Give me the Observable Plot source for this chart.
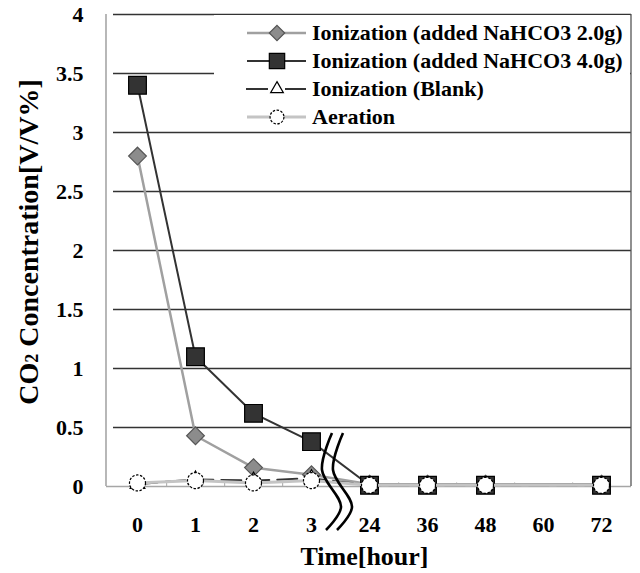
<!DOCTYPE html>
<html><head><meta charset="utf-8">
<script src="https://cdn.jsdelivr.net/npm/d3@7"></script>
<script src="https://cdn.jsdelivr.net/npm/@observablehq/plot@0.6"></script>
<style>
body{margin:0;background:#fff}
#chart{position:relative;width:640px;height:573px}
</style>
</head><body><div id="chart"></div>
<script>
// x categories (hours) and the sampled times (no sample at 60 h)
const timeLabels = ["0","1","2","3","24","36","48","60","72"];
const sampleTimes = ["0","1","2","3","24","36","48","72"];
const seriesNames = [
  "Ionization (added NaHCO3 2.0g)",
  "Ionization (added NaHCO3 4.0g)",
  "Ionization (Blank)",
  "Aeration"
];
const na2g     = [2.80, 0.43, 0.16, 0.10, 0.02, 0.02, 0.02, 0.02];
const na4g     = [3.40, 1.10, 0.62, 0.38, 0.01, 0.01, 0.01, 0.01];
const blank    = [0.02, 0.06, 0.05, 0.07, 0.01, 0.01, 0.01, 0.01];
const aeration = [0.03, 0.05, 0.03, 0.05, 0.01, 0.01, 0.01, 0.01];
const yTicks = [0, 0.5, 1, 1.5, 2, 2.5, 3, 3.5, 4];

const styles = [
  {line:"#a0a0a0", lw:2.5, dash:null, symbol:"diamond2", r:8, fill:"#8c8c8c", stroke:"#555", sdash:null},
  {line:"#333333", lw:2,   dash:null, symbol:"square",   r:10, fill:"#333333", stroke:"#000", sdash:null},
  {line:"#333333", lw:2,   dash:"20,8", symbol:"triangle2", r:7, fill:"#fff", stroke:"#000", sdash:null},
  {line:"#c4c4c4", lw:3,   dash:null, symbol:"circle",   r:8, fill:"#fff", stroke:"#000", sdash:"2.5,1.5"}
];
const allValues = [na2g, na4g, blank, aeration];
const tables = allValues.map((vals, i) => sampleTimes.map((t, j) => ({t, v: vals[j], s: seriesNames[i]})));

const FONT = "'Liberation Serif','Times New Roman',serif";

const seriesMarks = tables.flatMap((tbl, i) => {
  const st = styles[i];
  return [
    Plot.line(tbl, {x:"t", y:"v", stroke:st.line, strokeWidth:st.lw, strokeDasharray:st.dash}),
    Plot.dot(tbl, {x:"t", y:"v", symbol:()=>st.symbol, r:st.r, fill:st.fill, stroke:st.stroke, strokeWidth:1.2, strokeDasharray:st.sdash})
  ];
});

const fig = Plot.plot({
  width:640, height:573,
  marginLeft:106, marginRight:9, marginTop:14, marginBottom:87,
  style:{fontFamily:FONT, fontWeight:"bold", background:"#fff", color:"#000", overflow:"visible"},
  x:{type:"point", domain:timeLabels, padding:0.5},
  y:{domain:[0,4]},
  symbol:{type:"identity"},
  marks:[
    Plot.ruleY(yTicks.filter(d => d > 0), {stroke:"#333", strokeWidth:1.3, insetLeft:7}),
    Plot.ruleY([0], {stroke:"#a6a6a6", strokeWidth:1.6}),
    Plot.ruleX(timeLabels.slice(0, -1), {x:d=>d, dx:525/18, y1:0, y2:0.03, stroke:"#a6a6a6", strokeWidth:1}),
    Plot.axisY(yTicks, {tickSize:0, tickPadding:23, tickFormat:d=>String(d), fontSize:22, label:null, fill:"#000"}),
    Plot.axisX({tickSize:0, tickPadding:30, fontSize:22, label:null, fill:"#000"}),
    ...seriesMarks
  ]
});

document.getElementById("chart").appendChild(fig);

const svg = d3.select(fig);
const xs = fig.scale("x"), ys = fig.scale("y");
const [xL, xR] = xs.range;
const y0 = ys.apply(0), y4 = ys.apply(4), y3 = ys.apply(3);

// frame sides
svg.append("line").attr("x1", xL).attr("x2", xL).attr("y1", y4).attr("y2", y0)
  .attr("stroke", "#a6a6a6").attr("stroke-width", 1.6);
svg.append("line").attr("x1", xR).attr("x2", xR).attr("y1", y4).attr("y2", y0)
  .attr("stroke", "#555").attr("stroke-width", 1.3);

// axis break marks between 3 and 24
const mx = (xs.apply("3") + xs.apply("24")) / 2;
const brk = [[-8,-53],[-18,-16],[1,21],[-14,44]];
const lineGen = d3.line().curve(d3.curveCatmullRom);
[0, 11].forEach(off => {
  svg.append("path")
    .attr("d", lineGen(brk.map(([dx, dy]) => [mx + dx + off, y0 + dy])))
    .attr("fill", "none").attr("stroke", "#000").attr("stroke-width", 2.6);
});

// legend (inside plot, top right)
const lg = svg.append("g").attr("text-anchor", "start");
const lgLeft = 214;
lg.append("rect").attr("x", lgLeft).attr("y", y4 + 1).attr("width", xR - lgLeft - 1)
  .attr("height", y3 - y4 - 2).attr("fill", "#fff");
const symMap = {diamond2:d3.symbolDiamond2, square:d3.symbolSquare, triangle2:d3.symbolTriangle2, circle:d3.symbolCircle};
seriesNames.forEach((name, i) => {
  const st = styles[i];
  const cy = y4 + 19 + i * 28;
  const sx = 277;
  if (i === 2) {
    lg.append("line").attr("x1", 246).attr("x2", 268).attr("y1", cy).attr("y2", cy).attr("stroke", st.line).attr("stroke-width", st.lw);
    lg.append("line").attr("x1", 285).attr("x2", 306).attr("y1", cy).attr("y2", cy).attr("stroke", st.line).attr("stroke-width", st.lw);
  } else {
    lg.append("line").attr("x1", 247).attr("x2", 306).attr("y1", cy).attr("y2", cy).attr("stroke", st.line).attr("stroke-width", st.lw);
  }
  lg.append("path").attr("transform", `translate(${sx},${cy})`)
    .attr("d", d3.symbol(symMap[st.symbol], Math.PI * st.r * st.r * 0.75)())
    .attr("fill", st.fill).attr("stroke", st.stroke).attr("stroke-width", 1.2)
    .attr("stroke-dasharray", st.sdash);
  lg.append("text").attr("x", 312).attr("y", cy + 7).attr("font-size", 22)
    .attr("text-anchor", "start")
    .attr("font-family", FONT).attr("font-weight", "bold").attr("fill", "#000").text(name);
});

// axis titles
const yt = svg.append("text").attr("transform", `translate(38,${(y0 + y4) / 2 - 8}) rotate(-90)`)
  .attr("text-anchor", "middle").attr("font-size", 28).attr("font-family", FONT).attr("font-weight", "bold").attr("fill", "#000");
yt.append("tspan").text("CO");
yt.append("tspan").attr("font-size", 18).text("2");
yt.append("tspan").text(" Concentration[V/V%]");

svg.append("text").attr("x", (xL + xR) / 2 - 4).attr("y", 565).attr("text-anchor", "middle")
  .attr("font-size", 26).attr("font-family", FONT).attr("font-weight", "bold").attr("fill", "#000")
  .text("Time[hour]");
</script>
</body></html>
